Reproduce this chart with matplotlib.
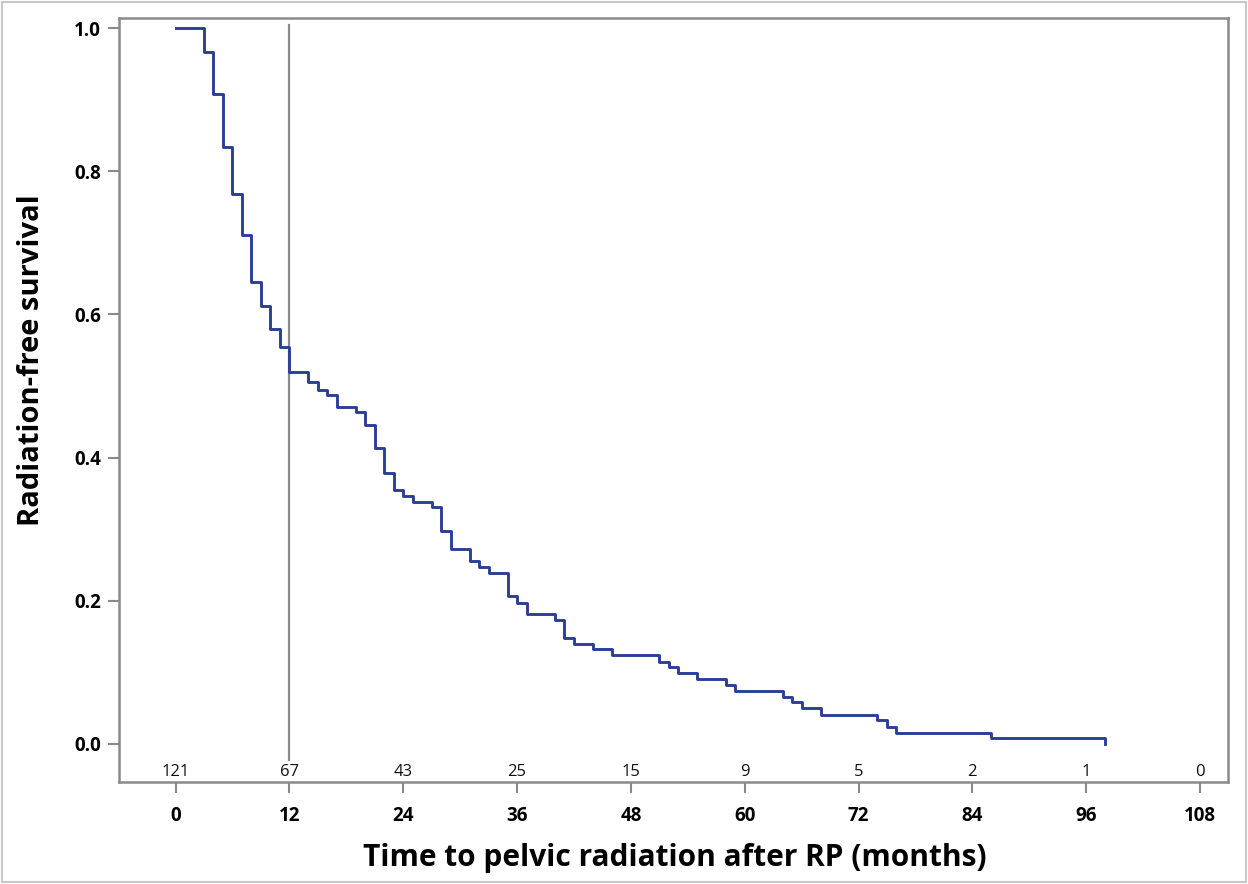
import matplotlib
matplotlib.use("Agg")
import matplotlib.pyplot as plt
from matplotlib.patches import Rectangle

# Kaplan-Meier step data (event times in months, survival after each event)
times = [0, 3, 4, 5, 6, 7, 8, 9, 10, 11, 12, 14, 15, 16, 17, 19, 20, 21, 22, 23,
         24, 25, 27, 28, 29, 31, 32, 33, 35, 36, 37, 40, 41, 42, 44, 46, 51, 52,
         53, 55, 58, 59, 64, 65, 66, 68, 74, 75, 76, 86, 98]
survival = [1.0, 0.967, 0.908, 0.834, 0.768, 0.711, 0.645, 0.612, 0.579, 0.554,
            0.520, 0.505, 0.495, 0.487, 0.471, 0.463, 0.446, 0.413, 0.379, 0.355,
            0.347, 0.338, 0.331, 0.297, 0.272, 0.256, 0.247, 0.239, 0.206, 0.197,
            0.181, 0.173, 0.148, 0.140, 0.132, 0.124, 0.115, 0.107, 0.099, 0.091,
            0.082, 0.074, 0.066, 0.058, 0.050, 0.041, 0.034, 0.024, 0.016, 0.008,
            0.0]

risk_times = [0, 12, 24, 36, 48, 60, 72, 84, 96, 108]
at_risk = [121, 67, 43, 25, 15, 9, 5, 2, 1, 0]

y_ticks = [0.0, 0.2, 0.4, 0.6, 0.8, 1.0]
ref_month = 12

GRAY = "#8a8a8a"
BLUE = "#2b3f97"
FONT = ["Open Sans", "DejaVu Sans"]

fig = plt.figure(figsize=(12.48, 8.84), dpi=100)
ax = fig.add_axes([119 / 1248, 1 - 782 / 884, (1228 - 119) / 1248, (782 - 18) / 884])

ax.step(times, survival, where="post", color=BLUE, lw=2.1, zorder=3)

ax.axvline(ref_month, ymin=0.029, ymax=0.991, color=GRAY, lw=1.6, zorder=2)

ax.set_xlim(-5.96, 110.95)
ax.set_ylim(-0.0531, 1.014)

ax.set_xticks(risk_times)
ax.set_xticklabels([str(t) for t in risk_times], fontfamily=FONT,
                   fontweight="bold", fontsize=13.5)
ax.set_yticks(y_ticks)
ax.set_yticklabels([f"{v:.1f}" for v in y_ticks], fontfamily=FONT,
                   fontweight="bold", fontsize=13.5)

ax.tick_params(axis="x", direction="out", length=8, width=1.5, color=GRAY, pad=9)
ax.tick_params(axis="y", direction="out", length=8, width=1.5, color=GRAY, pad=5)

for s in ax.spines.values():
    s.set_color(GRAY)
    s.set_linewidth(1.8)

# numbers at risk inside the plot area
for t, n in zip(risk_times, at_risk):
    ax.text(t, 0.003, str(n), transform=ax.get_xaxis_transform(),
            ha="center", va="bottom", fontsize=12, fontfamily=FONT, color="#111111")

fig.text(675 / 1248, 1 - 858 / 884, "Time to pelvic radiation after RP (months)",
         ha="center", va="center", fontsize=21.5, fontweight="bold", fontfamily=FONT)
fig.text(32 / 1248, 1 - 360 / 884, "Radiation-free survival", rotation=90,
         ha="center", va="center", fontsize=21, fontweight="bold", fontfamily=FONT)

fig.patches.append(Rectangle((0.002, 0.002), 0.996, 0.996, transform=fig.transFigure,
                             fill=False, edgecolor="#c8c8c8", lw=1.5))

fig.savefig("out.png", dpi=100, facecolor="white")
